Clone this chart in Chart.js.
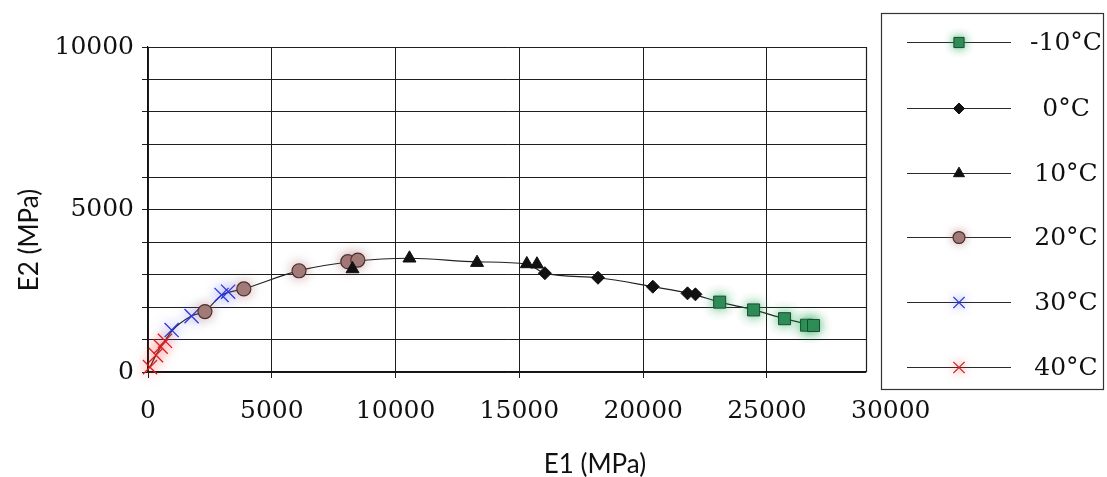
<!DOCTYPE html>
<html>
<head>
<meta charset="utf-8">
<script src="https://cdn.jsdelivr.net/npm/chart.js"></script>
<style>
  html, body { margin: 0; padding: 0; background: #fff; }
  #wrap { width: 1107px; height: 477px; }
</style>
</head>
<body>
<div id="wrap"><canvas id="modulusChart" width="1107" height="477"></canvas></div>
<script>
// E1 / E2 moduli per test temperature
const seriesNames = ['-10°C', '0°C', '10°C', '20°C', '30°C', '40°C'];

const e1Minus10 = [23090, 24460, 25710, 26600, 26880];
const e2Minus10 = [2150, 1910, 1640, 1440, 1430];

const e1Zero = [16030, 18175, 20390, 21790, 22110];
const e2Zero = [3040, 2900, 2625, 2420, 2390];

const e1Ten = [8260, 10560, 13290, 15300, 15710];
const e2Ten = [3170, 3500, 3365, 3325, 3315];

const e1Twenty = [2300, 3870, 6100, 8070, 8475];
const e2Twenty = [1860, 2555, 3115, 3395, 3445];

const e1Thirty = [955, 1760, 2970, 3236];
const e2Thirty = [1290, 1720, 2370, 2470];

const e1Forty = [80, 322, 512, 685];
const e2Forty = [150, 520, 780, 960];

// hand-drawn trend curve through the cloud
const trendE1 = [80, 322, 685, 960, 1750, 2300, 2970, 3870, 6100, 8300, 10560, 13290, 15300, 16030, 18175, 20390, 21950, 23090, 24460, 25710, 26880];
const trendE2 = [150, 520, 960, 1260, 1720, 1870, 2360, 2555, 3120, 3400, 3500, 3390, 3320, 3040, 2900, 2625, 2405, 2150, 1910, 1640, 1430];

const xTicks = [0, 5000, 10000, 15000, 20000, 25000, 30000];
const yTicks = [0, 5000, 10000];
const xMax = 29000;

const pts = (xs, ys) => xs.map((x, i) => ({ x: x, y: ys[i] }));

const markerStyles = [
  { pointStyle: 'rect', radius: 8.5, bg: '#2f8a56', border: '#1c4a31', width: 1, glow: 'rgba(40,170,90,0.85)' },
  { pointStyle: 'rectRot', radius: 6.5, bg: '#111', border: '#111', width: 1, glow: null },
  { pointStyle: 'triangle', radius: 7.5, bg: '#111', border: '#111', width: 1, glow: null },
  { pointStyle: 'circle', radius: 7, bg: '#a27c79', border: '#4b2f2f', width: 1.2, glow: 'rgba(170,110,110,0.6)' },
  { pointStyle: 'crossRot', radius: 10, bg: '#2a35d8', border: '#2a35d8', width: 1.3, glow: 'rgba(70,90,255,0.95)' },
  { pointStyle: 'crossRot', radius: 10, bg: '#d42020', border: '#d42020', width: 1.3, glow: 'rgba(255,60,60,0.95)' }
];

const seriesData = [
  pts(e1Minus10, e2Minus10),
  pts(e1Zero, e2Zero),
  pts(e1Ten, e2Ten),
  pts(e1Twenty, e2Twenty),
  pts(e1Thirty, e2Thirty),
  pts(e1Forty, e2Forty)
];

const datasets = seriesNames.map((name, i) => {
  const m = markerStyles[i];
  return {
    label: name,
    data: seriesData[i],
    showLine: false,
    pointStyle: m.pointStyle,
    pointRadius: m.radius,
    pointBackgroundColor: m.bg,
    pointBorderColor: m.border,
    pointBorderWidth: m.width,
    glow: m.glow,
    clip: false
  };
});

// trend line goes last so it sits under the markers
datasets.push({
  label: 'trend',
  data: pts(trendE1, trendE2),
  showLine: true,
  borderColor: '#222',
  borderWidth: 1.2,
  pointRadius: 0,
  cubicInterpolationMode: 'monotone',
  clip: false
});

const serifFont = 'DejaVu Serif';
const gridColor = '#1e1e1e';

// hide the grid line of the 30000 label, it lies past the plot edge
const xGridColor = c => (c.tick && c.tick.value > xMax ? 'rgba(0,0,0,0)' : gridColor);

// soft coloured halo around some markers
const glowPlugin = {
  id: 'glow',
  beforeDatasetDraw(chart, args) {
    const ds = chart.data.datasets[args.index];
    chart.ctx.save();
    if (ds.glow) {
      chart.ctx.shadowColor = ds.glow;
      chart.ctx.shadowBlur = 12;
    }
  },
  afterDatasetDraw(chart) {
    chart.ctx.restore();
  }
};

// right frame edge, axis titles and the boxed legend
const decorPlugin = {
  id: 'decor',
  beforeDatasetsDraw(chart) {
    const ctx = chart.ctx;
    const area = chart.chartArea;
    ctx.save();
    ctx.strokeStyle = gridColor;
    ctx.lineWidth = 1.2;
    ctx.beginPath();
    ctx.moveTo(Math.round(area.right) + 0.5, area.top);
    ctx.lineTo(Math.round(area.right) + 0.5, area.bottom);
    ctx.stroke();
    ctx.restore();
  },
  afterDraw(chart) {
    const ctx = chart.ctx;
    ctx.save();
    ctx.fillStyle = '#111';
    ctx.font = '26px Lato';
    ctx.textAlign = 'center';
    ctx.textBaseline = 'middle';
    ctx.fillText('E1 (MPa)', 595, 465);
    ctx.save();
    ctx.translate(30, 240);
    ctx.rotate(-Math.PI / 2);
    ctx.fillText('E2 (MPa)', 0, 0);
    ctx.restore();

    ctx.strokeStyle = '#333';
    ctx.lineWidth = 1.2;
    ctx.strokeRect(881.5, 13.5, 222, 376);

    const rowY = [42, 108, 173, 237, 302, 367];
    seriesNames.forEach((name, i) => {
      const y = rowY[i] + 0.5;
      const m = markerStyles[i];
      ctx.strokeStyle = '#2a2a2a';
      ctx.lineWidth = 1;
      ctx.beginPath();
      ctx.moveTo(907, y);
      ctx.lineTo(1011, y);
      ctx.stroke();
      ctx.save();
      if (m.glow) {
        ctx.shadowColor = m.glow;
        ctx.shadowBlur = 10;
      }
      ctx.fillStyle = m.bg;
      ctx.strokeStyle = m.border;
      ctx.lineWidth = m.width;
      Chart.helpers.drawPoint(ctx, {
        pointStyle: m.pointStyle,
        radius: m.pointStyle === 'crossRot' ? 8 : m.radius * 0.85,
        rotation: 0,
        borderWidth: m.width
      }, 959, y);
      ctx.restore();
      ctx.fillStyle = '#111';
      ctx.font = '25px ' + serifFont;
      ctx.textAlign = 'center';
      ctx.textBaseline = 'middle';
      ctx.fillText(name, 1066, y + 1);
    });
    ctx.restore();
  }
};

const ctx = document.getElementById('modulusChart').getContext('2d');
const modulusChart = new Chart(ctx, {
  type: 'scatter',
  data: { datasets: datasets },
  options: {
    responsive: false,
    animation: false,
    layout: {
      padding: { top: 47, right: 241, bottom: 0, left: 0 }
    },
    plugins: {
      legend: { display: false },
      tooltip: { enabled: false }
    },
    scales: {
      x: {
        type: 'linear',
        min: 0,
        max: xMax,
        afterBuildTicks: scale => {
          scale.ticks = xTicks.map(v => ({ value: v }));
        },
        afterFit: scale => {
          scale.height = 105;
        },
        grid: {
          color: xGridColor,
          lineWidth: 1,
          tickLength: 6
        },
        border: { color: '#111', width: 1.2 },
        ticks: {
          color: '#111',
          font: { family: serifFont, size: 25 },
          padding: 18,
          maxRotation: 0,
          autoSkip: false,
          callback: v => String(v)
        }
      },
      y: {
        type: 'linear',
        min: 0,
        max: 10000,
        afterFit: scale => {
          scale.width = 148;
        },
        grid: {
          color: gridColor,
          lineWidth: 1,
          tickLength: 6
        },
        border: { color: '#111', width: 1.2 },
        ticks: {
          stepSize: 1000,
          color: '#111',
          font: { family: serifFont, size: 25 },
          padding: 8,
          autoSkip: false,
          callback: v => (yTicks.includes(v) ? String(v) : '')
        }
      }
    }
  },
  plugins: [glowPlugin, decorPlugin]
});
</script>
</body>
</html>
